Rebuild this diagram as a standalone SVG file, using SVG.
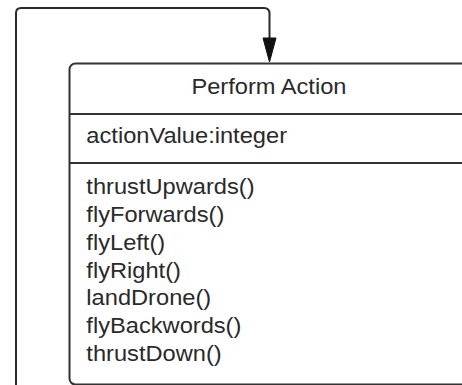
<svg xmlns="http://www.w3.org/2000/svg" width="462" height="385" viewBox="0 0 462 385">
  <defs>
    <style>
      .edge { fill: none; stroke: #2b2b2b; stroke-width: 2; }
      .head { fill: #111; stroke: #111; stroke-width: 1; stroke-linejoin: miter; }
      .frame { fill: #ffffff; stroke: #333333; stroke-width: 2; }
      .rule { stroke: #333333; stroke-width: 2; }
      .lbl { font-family: "Liberation Sans", Arial, sans-serif; font-size: 21.5px; fill: #2a2a2a; }
    </style>
  </defs>
  <rect width="462" height="385" fill="#ffffff"/>

  <!-- self-loop connector back into the class box -->
  <g id="connectors">
    <path class="edge" d="M16,386 V13 Q16,8 21,8 H264 Q269.5,8 269.5,13.5 V40"/>
    <polygon class="head" points="263,38 276,38 269.5,62"/>
  </g>

  <!-- class: Perform Action -->
  <g id="perform-action">
    <rect class="frame" x="69.5" y="63.5" width="400" height="321" rx="6" ry="6"/>
    <line class="rule" x1="69.5" y1="114" x2="462" y2="114"/>
    <line class="rule" x1="69.5" y1="163" x2="462" y2="163"/>
    <g transform="scale(1.1,1)">
      <text class="lbl" x="244.5" y="94" text-anchor="middle">Perform Action</text>
      <text class="lbl" x="78.5" y="143">actionValue:integer</text>
      <text class="lbl" x="78.5" y="194.5">thrustUpwards()</text>
      <text class="lbl" x="78.5" y="222.2">flyForwards()</text>
      <text class="lbl" x="78.5" y="249.9">flyLeft()</text>
      <text class="lbl" x="78.5" y="277.6">flyRight()</text>
      <text class="lbl" x="78.5" y="305.3">landDrone()</text>
      <text class="lbl" x="78.5" y="333">flyBackwords()</text>
      <text class="lbl" x="78.5" y="360.7">thrustDown()</text>
    </g>
  </g>
</svg>
